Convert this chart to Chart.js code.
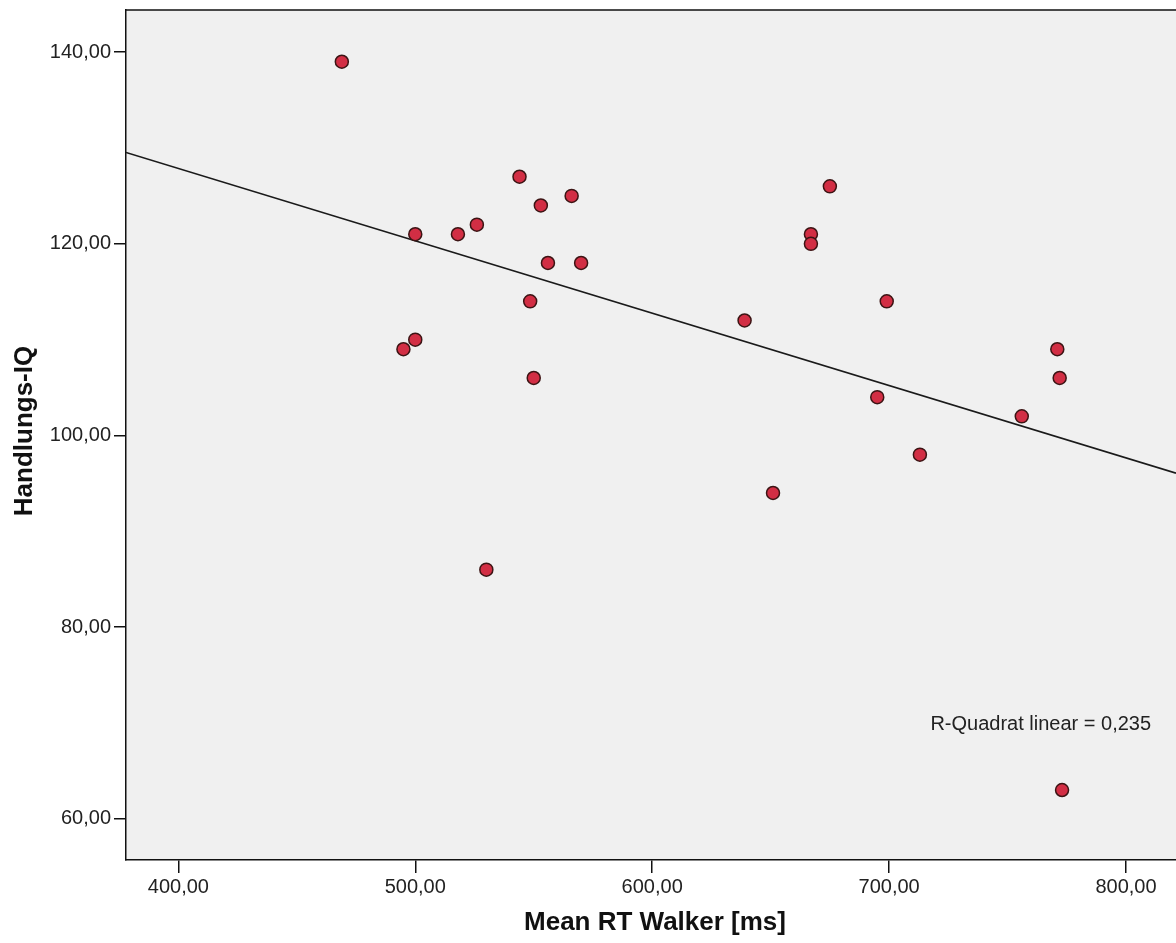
<!DOCTYPE html>
<html>
<head>
<meta charset="utf-8">
<script src="https://cdn.jsdelivr.net/npm/chart.js@4.4.1/dist/chart.umd.min.js"></script>
<style>
  html, body { margin: 0; padding: 0; background: #fff; }
  #wrap { width: 1176px; height: 943px; }
</style>
</head>
<body>
<div id="wrap"><canvas id="scatter" width="1176" height="943"></canvas></div>
<script>
// Mean RT Walker [ms]
const rtWalker = [
  469, 500, 518, 526, 495, 500, 530, 544, 553, 566, 556, 570, 548.5,
  550, 639, 651, 675, 667, 667, 699, 695, 713, 756, 771, 772, 773,
];
// Handlungs-IQ
const handlungsIQ = [
  139, 121, 121, 122, 109, 110, 86, 127, 124, 125, 118, 118, 114,
  106, 112, 94, 126, 121, 120, 114, 104, 98, 102, 109, 106, 63,
];
const xTicks = [400, 500, 600, 700, 800];
const yTicks = [60, 80, 100, 120, 140];

const X_MIN = 377.9, X_MAX = 821.1;
const Y_MIN = 55.7, Y_MAX = 144.4;
const FONT = "'Liberation Sans', Arial, sans-serif";

// least squares fit
const n = rtWalker.length;
const mx = rtWalker.reduce((a, b) => a + b, 0) / n;
const my = handlungsIQ.reduce((a, b) => a + b, 0) / n;
let sxy = 0, sxx = 0, syy = 0;
for (let i = 0; i < n; i++) {
  sxy += (rtWalker[i] - mx) * (handlungsIQ[i] - my);
  sxx += (rtWalker[i] - mx) ** 2;
  syy += (handlungsIQ[i] - my) ** 2;
}
const slope = sxy / sxx;
const intercept = my - slope * mx;
const r2 = (sxy * sxy) / (sxx * syy);

const fmt = (v) => v.toFixed(2).replace(".", ",");

const points = rtWalker.map((x, i) => ({ x: x, y: handlungsIQ[i] }));
const fitLine = [X_MIN, X_MAX].map((x) => ({ x: x, y: intercept + slope * x }));

const ctx = document.getElementById("scatter").getContext("2d");

const chart = new Chart(ctx, {
  type: "scatter",
  data: {
    datasets: [
      {
        type: "line",
        data: fitLine,
        borderColor: "#1a1a1a",
        borderWidth: 1.7,
        pointRadius: 0,
        fill: false,
        order: 2,
      },
      {
        data: points,
        backgroundColor: "#d22e44",
        borderColor: "#3c1414",
        borderWidth: 1.5,
        pointRadius: 6.5,
        order: 1,
      },
    ],
  },
  options: {
    responsive: false,
    animation: false,
    layout: { autoPadding: false, padding: { top: 10, right: 0, bottom: 0, left: 0 } },
    plugins: {
      legend: { display: false },
      tooltip: { enabled: false },
    },
    scales: {
      x: {
        type: "linear",
        min: X_MIN,
        max: X_MAX,
        afterBuildTicks(scale) {
          scale.ticks = xTicks.map((v) => ({ value: v }));
        },
        afterFit(scale) {
          scale.height = 83;
          scale.paddingLeft = 0;
          scale.paddingRight = 0;
        },
        ticks: {
          callback: (v) => fmt(v),
          color: "#222",
          font: { family: FONT, size: 20 },
          padding: 2,
          maxRotation: 0,
        },
        grid: {
          drawOnChartArea: false,
          drawTicks: true,
          tickLength: 13,
          color: "#111",
          lineWidth: 1.5,
        },
        border: { color: "#111", width: 1.5 },
      },
      y: {
        type: "linear",
        min: Y_MIN,
        max: Y_MAX,
        afterBuildTicks(scale) {
          scale.ticks = yTicks.map((v) => ({ value: v }));
        },
        afterFit(scale) {
          scale.width = 126;
          scale.paddingTop = 0;
          scale.paddingBottom = 0;
        },
        ticks: {
          callback: (v) => fmt(v),
          color: "#222",
          font: { family: FONT, size: 20 },
          padding: 3,
        },
        grid: {
          drawOnChartArea: false,
          drawTicks: true,
          tickLength: 12,
          color: "#111",
          lineWidth: 1.5,
        },
        border: { color: "#111", width: 1.5 },
      },
    },
  },
  plugins: [
    {
      id: "plotBackground",
      beforeDraw(chart) {
        const { ctx, chartArea: { left, top, right, bottom } } = chart;
        ctx.save();
        ctx.fillStyle = "#f0f0f0";
        ctx.fillRect(left, top, right - left, bottom - top);
        ctx.restore();
      },
    },
    {
      id: "frameAndLabels",
      afterDraw(chart) {
        const { ctx, chartArea: { left, top, right, bottom } } = chart;
        const xs = chart.scales.x, ys = chart.scales.y;
        ctx.save();
        // top frame line
        ctx.strokeStyle = "#111";
        ctx.lineWidth = 1.5;
        ctx.beginPath();
        ctx.moveTo(left, top);
        ctx.lineTo(right, top);
        ctx.stroke();

        // R-squared annotation
        ctx.fillStyle = "#222";
        ctx.font = "20px " + FONT;
        ctx.textAlign = "center";
        ctx.textBaseline = "middle";
        ctx.fillText(
          "R-Quadrat linear = " + r2.toFixed(3).replace(".", ","),
          xs.getPixelForValue(764),
          ys.getPixelForValue(69.8)
        );

        // axis titles
        ctx.fillStyle = "#111";
        ctx.font = "bold 26px " + FONT;
        ctx.textBaseline = "alphabetic";
        ctx.fillText("Mean RT Walker [ms]", (left + right) / 2 + 4, 930);

        ctx.translate(32, (top + bottom) / 2 - 4);
        ctx.rotate(-Math.PI / 2);
        ctx.fillText("Handlungs-IQ", 0, 0);
        ctx.restore();
      },
    },
  ],
});
</script>
</body>
</html>
